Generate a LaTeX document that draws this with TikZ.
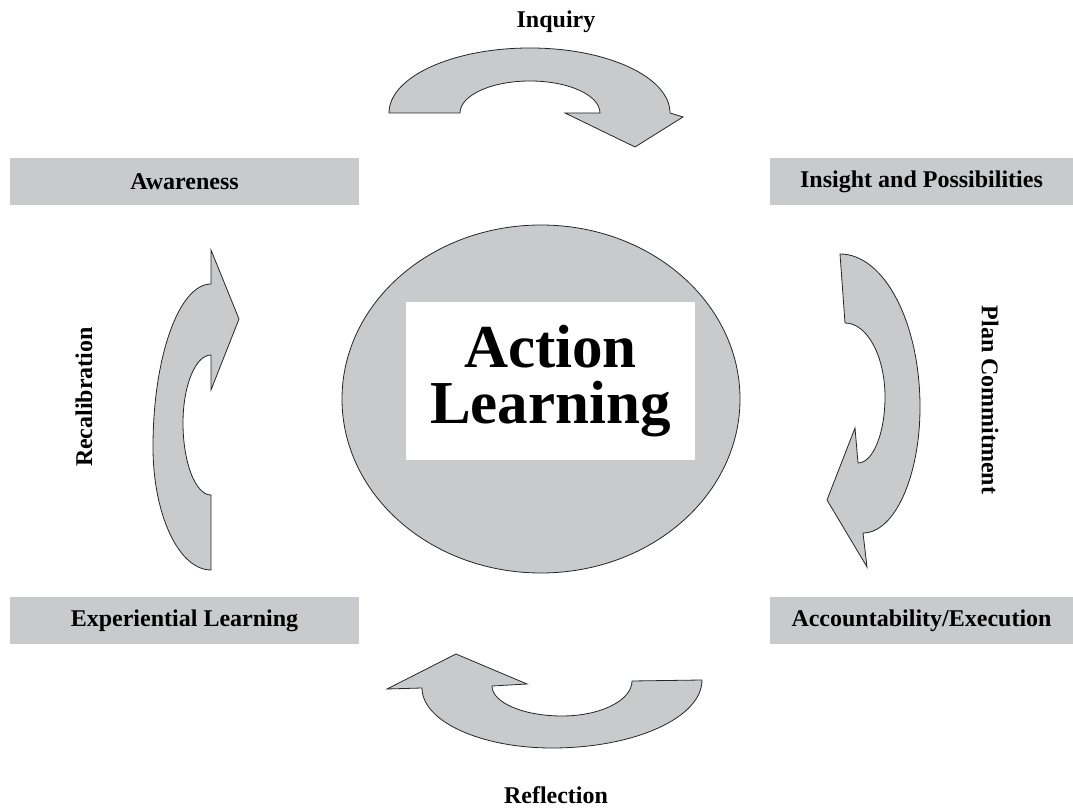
\documentclass[tikz,border=0pt]{standalone}
\usepackage{fontspec}
\setmainfont{Liberation Serif}
\usetikzlibrary{shapes.geometric}
\definecolor{cyclegray}{RGB}{201,202,204}

\begin{document}
\begin{tikzpicture}[x=1pt,y=1pt,
    stage/.style={fill=cyclegray, minimum width=349pt, minimum height=47pt, inner sep=0pt,
      font=\fontsize{24}{28}\selectfont\bfseries},
    turn/.style={fill=cyclegray, draw=black!85, line width=0.8pt},
    tag/.style={font=\fontsize{24}{28}\selectfont\bfseries, inner sep=0pt}]
    \useasboundingbox (0,0) rectangle (1073,808);
    % centre disc with title
    \node[ellipse, draw=black!85, fill=cyclegray, line width=0.8pt,
      minimum width=398pt, minimum height=348pt, inner sep=0pt] (core) at (541,409) {};
    \node[fill=white, minimum width=289pt, minimum height=158pt, align=center,
      font=\fontsize{61}{56}\selectfont\bfseries] (title) at (550.5,427) {Action\\Learning};
    % the four stages
    \node[stage] (awareness) at (184.5,626.5) {Awareness};
    \node[stage, minimum width=303pt] (insight) at (921.5,626.5) {Insight and Possibilities};
    \node[stage, minimum width=303pt] (account) at (921.5,187.5) {Accountability/Execution};
    \node[stage] (experience) at (184.5,187.5) {Experiential Learning};
    % Inquiry arrow (top)
    \filldraw[turn] (389,695) arc[start angle=180, end angle=90, x radius=141, y radius=65]
      arc[start angle=90, end angle=0, x radius=140, y radius=65]
      -- (683,691) -- (635,661) -- (565,695) -- (600,695)
      arc[start angle=0, end angle=90, x radius=70, y radius=32]
      arc[start angle=90, end angle=180, x radius=70, y radius=32] -- cycle;
    % Plan Commitment arrow (right)
    \filldraw[turn] (840,554) arc[start angle=90, end angle=0, x radius=80, y radius=153]
      arc[start angle=0, end angle=-90, x radius=57, y radius=126]
      -- (867,241) -- (827,308) -- (855,380) -- (858,345)
      arc[start angle=-90, end angle=0, x radius=27, y radius=66]
      arc[start angle=0, end angle=90, x radius=40, y radius=74] -- cycle;
    % Reflection arrow (bottom)
    \filldraw[turn] (387,119) -- (456,154) -- (527,124) -- (492,122)
      arc[start angle=180, end angle=270, x radius=70, y radius=30]
      arc[start angle=270, end angle=360, x radius=70, y radius=35]
      -- (702,128)
      arc[start angle=0, end angle=-90, x radius=150, y radius=68]
      arc[start angle=270, end angle=180, x radius=130, y radius=60] -- cycle;
    % Recalibration arrow (left)
    \filldraw[turn] (239,489) -- (211,558) -- (211,524)
      arc[start angle=90, end angle=180, x radius=58, y radius=163]
      arc[start angle=180, end angle=270, x radius=58, y radius=123]
      -- (211,313)
      arc[start angle=270, end angle=180, x radius=28, y radius=72]
      arc[start angle=180, end angle=90, x radius=28, y radius=68]
      -- (211,418) -- cycle;
    % arrow labels
    \node[tag, anchor=base] (inquiry) at (556,780) {Inquiry};
    \node[tag, rotate=-90] (plan) at (990,408) {Plan Commitment};
    \node[tag, anchor=base] (reflection) at (556,4) {Reflection};
    \node[tag, rotate=90] (recal) at (84,411) {Recalibration};
\end{tikzpicture}
\end{document}
